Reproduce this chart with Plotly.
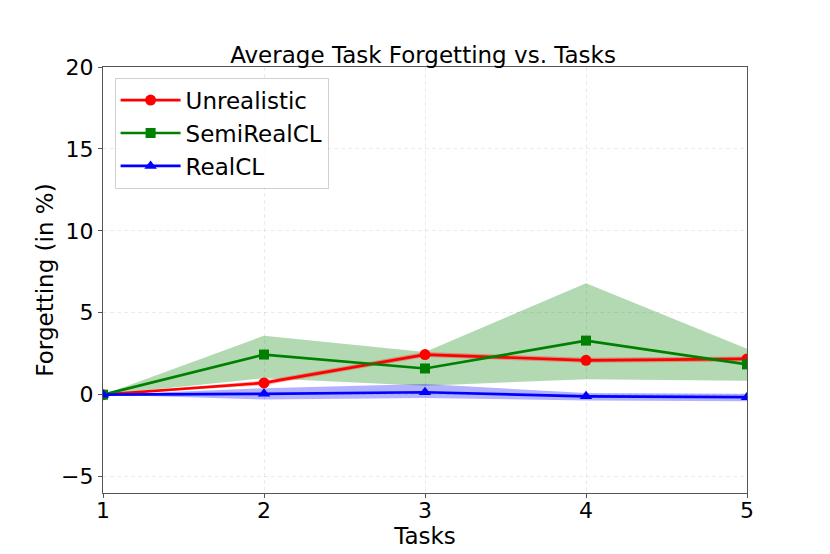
import plotly.graph_objects as go

tasks = [1, 2, 3, 4, 5]
unreal = [0.0, 0.72, 2.45, 2.1, 2.18]
unreal_lo = [0.0, 0.58, 2.3, 1.95, 2.03]
unreal_hi = [0.0, 0.86, 2.6, 2.25, 2.33]
semi = [0.0, 2.45, 1.6, 3.3, 1.85]
semi_lo = [0.0, 1.0, 0.55, 0.95, 0.85]
semi_hi = [0.0, 3.6, 2.6, 6.8, 2.8]
real = [0.0, 0.05, 0.15, -0.1, -0.15]
real_lo = [0.0, -0.3, -0.2, -0.35, -0.4]
real_hi = [0.0, 0.4, 0.65, 0.1, 0.05]
yticks = [-5, 0, 5, 10, 15, 20]

fig = go.Figure()

def band(lo, hi, color):
    fig.add_trace(go.Scatter(x=tasks, y=hi, mode="lines", line=dict(width=0), showlegend=False, hoverinfo="skip"))
    fig.add_trace(go.Scatter(x=tasks, y=lo, mode="lines", line=dict(width=0), fill="tonexty",
                             fillcolor=color, showlegend=False, hoverinfo="skip"))

band(semi_lo, semi_hi, "rgba(0,128,0,0.3)")
band(real_lo, real_hi, "rgba(0,0,255,0.3)")
band(unreal_lo, unreal_hi, "rgba(255,0,0,0.3)")

fig.add_trace(go.Scatter(x=tasks, y=unreal, mode="lines+markers", name="Unrealistic",
                         line=dict(color="red", width=2.7), marker=dict(symbol="circle", size=11, color="red")))
fig.add_trace(go.Scatter(x=tasks, y=semi, mode="lines+markers", name="SemiRealCL",
                         line=dict(color="green", width=2.7), marker=dict(symbol="square", size=10, color="green")))
fig.add_trace(go.Scatter(x=tasks, y=real, mode="lines+markers", name="RealCL",
                         line=dict(color="blue", width=2.7), marker=dict(symbol="triangle-up", size=11, color="blue")))

axis_common = dict(showline=True, linecolor="#555555", linewidth=1.3, mirror=True, ticks="outside",
                   ticklen=4, tickcolor="#555555", showgrid=True, gridcolor="rgba(0,0,0,0.08)",
                   griddash="4px,3px", zeroline=False, tickfont=dict(size=22, color="black"))

fig.update_layout(
    width=830, height=554,
    margin=dict(l=95, r=91, t=59, b=69),
    paper_bgcolor="white", plot_bgcolor="white",
    font=dict(family="DejaVu Sans", color="black"),
    title=dict(text="Average Task Forgetting vs. Tasks", x=0.5, xanchor="center", y=0.915, yanchor="middle",
               font=dict(size=23)),
    xaxis=dict(range=[1, 5], tickvals=tasks, ticklabelstandoff=-7,
               title=dict(text="Tasks", font=dict(size=23), standoff=0), **axis_common),
    yaxis=dict(range=[-6, 20], tickvals=yticks, ticktext=["\u22125", "0", "5", "10", "15", "20"],
               title=dict(text="Forgetting (in %)", font=dict(size=23), standoff=0), **axis_common),
    legend=dict(x=0.018, y=0.975, xanchor="left", yanchor="top", bgcolor="rgba(255,255,255,0.8)",
                bordercolor="rgba(0,0,0,0.18)", borderwidth=1, font=dict(size=23), itemwidth=60,
                traceorder="normal", tracegroupgap=0),
    showlegend=True,
)

fig.write_html("out.html")
